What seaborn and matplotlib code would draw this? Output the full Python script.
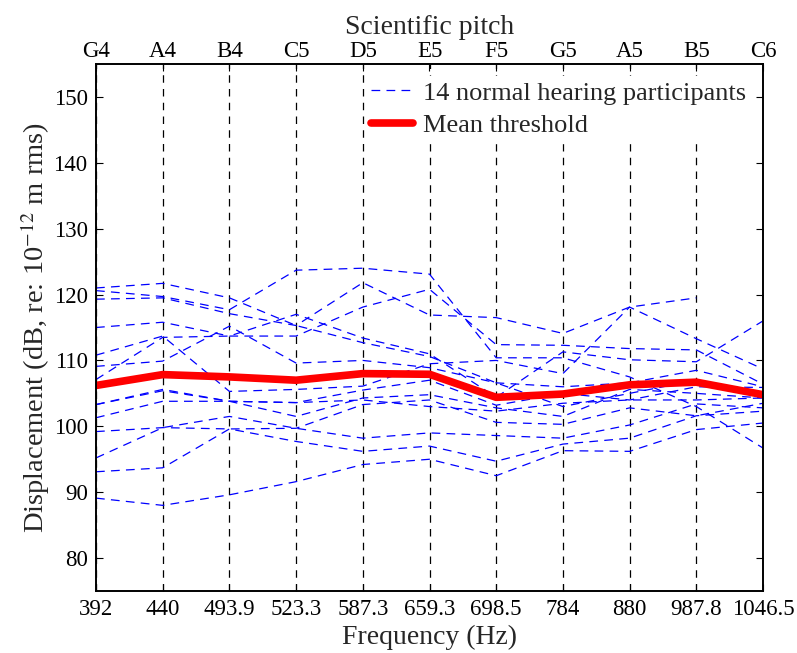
import numpy as np
import pandas as pd
import matplotlib
matplotlib.use("Agg")
import matplotlib.pyplot as plt
from matplotlib.lines import Line2D
import seaborn as sns

# ---------------- data ----------------
freq_labels = ['392', '440', '493.9', '523.3', '587.3', '659.3', '698.5',
               '784', '880', '987.8', '1046.5']
pitch_labels = ['G4', 'A4', 'B4', 'C5', 'D5', 'E5', 'F5', 'G5', 'A5', 'B5', 'C6']

p01 = [121.0, 121.7, 119.5, 115.3, 112.7, 110.6, 106.6, 103.0, 105.0, 107.0, 105.0]
p02 = [120.6, 119.7, 117.7, 123.7, 124.0, 123.1, 110.4, 110.4, 107.5, 103.0, 96.7]
p03 = [119.3, 119.5, 117.1, 115.3, 121.8, 116.9, 116.5, 114.1, 118.1, 119.5, np.nan]
p04 = [115.0, 115.8, 113.7, 113.7, 118.1, 120.8, 112.4, 112.3, 111.8, 111.6, 106.4]
p05 = [110.8, 113.7, 105.3, 105.6, 106.1, 109.5, 110.0, 108.0, 118.1, 113.3, 108.7]
p06 = [107.1, 113.5, 113.7, 117.0, 113.4, 111.0, 104.4, 111.3, 110.1, 109.8, 116.0]
p07 = [109.1, 109.9, 115.2, 109.6, 110.0, 108.9, 106.6, 106.0, 106.6, 108.5, 106.0]
p08 = [103.3, 105.6, 103.8, 103.6, 105.5, 107.0, 103.2, 105.0, 104.0, 106.0, 105.9]
p09 = [103.3, 105.4, 103.8, 101.5, 104.3, 104.8, 102.8, 101.5, 105.6, 105.0, 104.3]
p10 = [101.3, 103.8, 103.8, 103.6, 104.0, 103.0, 102.3, 103.5, 104.0, 104.0, 104.3]
p11 = [99.2, 99.8, 99.6, 99.7, 103.3, 104.0, 100.6, 100.3, 102.8, 101.6, 103.5]
p12 = [95.2, 99.8, 101.5, 99.7, 98.2, 99.0, 98.6, 98.2, 100.2, 103.4, 102.8]
p13 = [93.1, 93.7, 99.6, 97.7, 96.2, 97.0, 94.7, 97.3, 98.2, 101.6, 102.3]
p14 = [89.1, 88.0, 89.6, 91.6, 94.2, 95.0, 92.5, 96.3, 96.2, 99.5, 100.5]

mean_threshold = [106.2, 107.85, 107.5, 107.0, 108.0, 107.9, 104.4, 104.9, 106.3, 106.7, 104.8]

participants = [p01, p02, p03, p04, p05, p06, p07, p08, p09, p10, p11, p12, p13, p14]

rows = []
for k, arr in enumerate(participants):
    for i, v in enumerate(arr):
        if not np.isnan(v):
            rows.append({'participant': k, 'pos': i, 'value': v})
df = pd.DataFrame(rows)
df_mean = pd.DataFrame({'pos': range(len(mean_threshold)), 'value': mean_threshold})

# ---------------- style ----------------
sns.set_theme(style='white')
plt.rcParams['font.family'] = ['Liberation Serif', 'DejaVu Serif']
plt.rcParams['mathtext.fontset'] = 'stix'

fig = plt.figure(figsize=(7.97, 6.53), dpi=100)
ax = fig.add_axes([96 / 797, 1 - 591 / 653, (763 - 96) / 797, (591 - 64) / 653])

sns.lineplot(data=df, x='pos', y='value', units='participant', estimator=None,
             color='#0000ff', lw=0.9, linestyle=(0, (7, 5)), ax=ax, legend=False)
sns.lineplot(data=df_mean, x='pos', y='value', color='#ff0000', lw=5.5,
             ax=ax, legend=False, solid_capstyle='butt')

ax.set_xlim(0, 10)
ax.set_ylim(75, 155)
ax.set_yticks(range(80, 151, 10))
ax.set_xticks(range(len(freq_labels)))
ax.set_xticklabels(freq_labels)
ax.set_xlabel('Frequency (Hz)', fontsize=20, labelpad=3)
ax.set_ylabel(r'Displacement (dB, re: 10$^{-12}$ m rms)', fontsize=20.5, labelpad=1)

ax.set_axisbelow(True)
ax.grid(axis='x', color='black', linestyle=(0, (6, 5)), lw=0.9)
ax.grid(axis='y', visible=False)

ax.tick_params(axis='both', direction='in', length=5, width=0.8, colors='black',
               labelsize=16.5, left=True, right=True, bottom=True, top=False, pad=6)
for s in ax.spines.values():
    s.set_color('black')
    s.set_linewidth(1.2)

ax2 = ax.twiny()
ax2.set_xlim(0, 10)
ax2.set_xticks(range(len(pitch_labels)))
ax2.set_xticklabels(pitch_labels)
ax2.set_xlabel('Scientific pitch', fontsize=20, labelpad=5)
ax2.tick_params(axis='x', direction='in', length=5, width=0.8, colors='black',
                labelsize=16.5, top=True, pad=1.5)
for s in ax2.spines.values():
    s.set_color('black')
    s.set_linewidth(1.2)

handles = [Line2D([], [], color='#0000ff', lw=0.9, linestyle=(0, (7, 5))),
           Line2D([], [], color='#ff0000', lw=5.5)]
leg = ax.legend(handles, ['14 normal hearing participants', 'Mean threshold'],
                loc='upper right', fontsize=19, frameon=True, framealpha=1,
                edgecolor='white', fancybox=False, borderaxespad=0.45,
                handlelength=1.6, handletextpad=0.35, borderpad=0.2,
                labelspacing=0.35)
leg.set_zorder(5)

fig.savefig('out.png', dpi=100)
